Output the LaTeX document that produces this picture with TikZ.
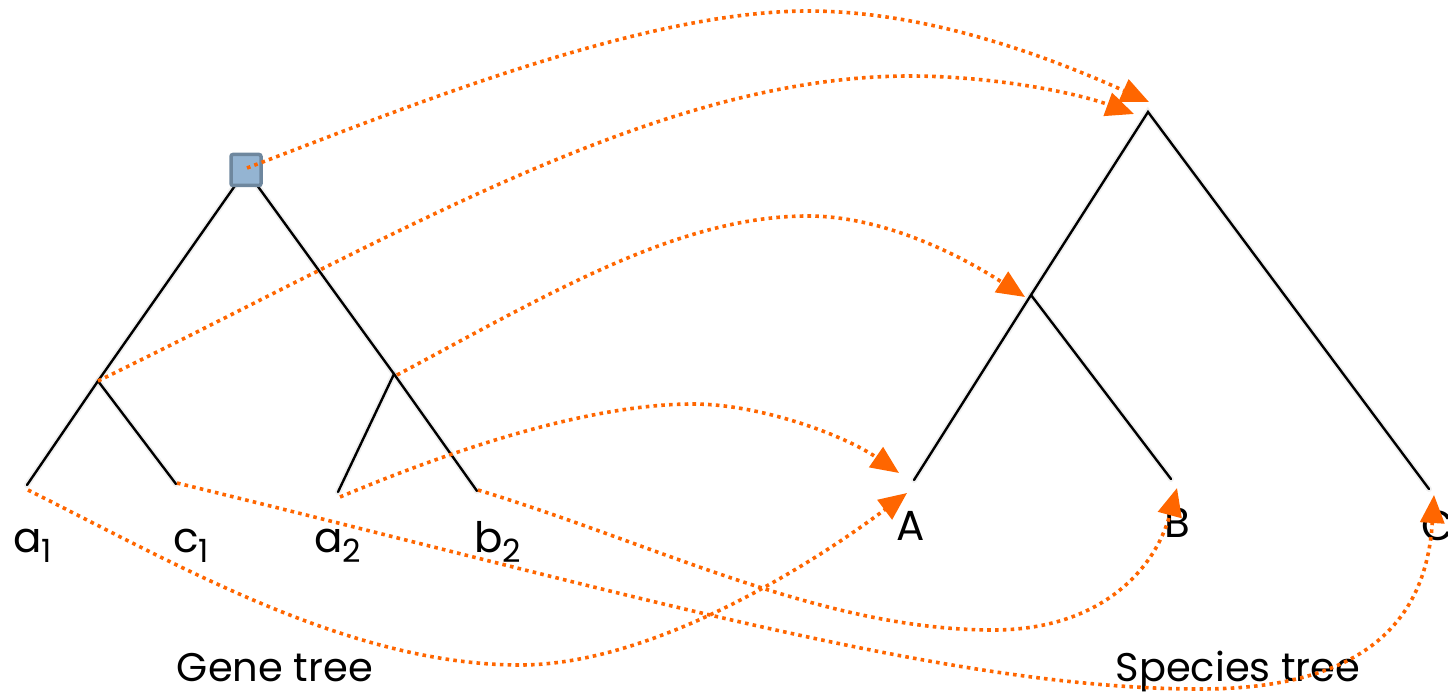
\documentclass[tikz,border=0pt]{standalone}
\usepackage{fontspec}
\setmainfont{Poppins}
\usetikzlibrary{arrows.meta}
\definecolor{maporange}{HTML}{FF6600}
\definecolor{dupfill}{HTML}{94B4D2}
\definecolor{dupdraw}{HTML}{6E879E}
\begin{document}
\begin{tikzpicture}[x=1pt,y=-1pt,
  branch/.style={line width=2.4pt, line cap=round, draw=black},
  branchshadow/.style={line width=6pt, line cap=round, draw=black, opacity=0.06},
  mapping/.style={draw=maporange, line width=3.6pt, dash pattern=on 3.6pt off 4.2pt,
    -{Triangle[length=28pt,width=24pt]}},
  lbl/.style={inner sep=0pt, anchor=base west, font=\fontsize{42}{48}\selectfont},
  clbl/.style={inner sep=0pt, anchor=base, font=\fontsize{42}{48}\selectfont},
  tlbl/.style={inner sep=0pt, anchor=base, font=\fontsize{40}{46}\selectfont},
  dupbox/.style={draw=dupdraw, fill=dupfill, line width=3.5pt, rounded corners=2pt,
    minimum width=30pt, minimum height=31pt, inner sep=0pt}
]
\newcommand{\subsc}[1]{\raisebox{-10pt}{\fontsize{32}{32}\selectfont #1}}
\useasboundingbox (0,0) rectangle (1448,695);

% gene tree points
\coordinate (g0) at (246,170);
\coordinate (gL) at (98,381);
\coordinate (gR) at (394,374);
\coordinate (a1e) at (27,485);
\coordinate (c1e) at (176,484);
\coordinate (a2e) at (338,492);
\coordinate (b2e) at (477,491);
% species tree points
\coordinate (s0) at (1148,112);
\coordinate (sAB) at (1031,295);
\coordinate (Ae) at (914,480);
\coordinate (Be) at (1171,479);
\coordinate (Ce) at (1429,489);

% shadows
\begin{scope}[shift={(4,3)}]
\draw[branchshadow] (a1e) -- (gL) -- (g0) -- (gR) -- (b2e);
\draw[branchshadow] (gL) -- (c1e);
\draw[branchshadow] (gR) -- (a2e);
\draw[branchshadow] (Ae) -- (sAB) -- (s0) -- (Ce);
\draw[branchshadow] (sAB) -- (Be);
\end{scope}

% branches
\draw[branch] (a1e) -- (gL) -- (g0) -- (gR) -- (b2e);
\draw[branch] (gL) -- (c1e);
\draw[branch] (gR) -- (a2e);
\draw[branch] (Ae) -- (sAB) -- (s0) -- (Ce);
\draw[branch] (sAB) -- (Be);

\node[dupbox] (dup) at (g0) {};

% labels
\node[lbl] (la1) at (13,552) {a\subsc{1}};
\node[lbl] (lc1) at (173,552) {c\subsc{1}};
\node[lbl] (la2) at (314,552) {a\subsc{2}};
\node[lbl] (lb2) at (474,552) {b\subsc{2}};
\node[clbl] (lA) at (911,540) {A};
\node[clbl] (lB) at (1177,537) {B};
\node[lbl] (lC) at (1421,540) {C};
\node[tlbl] (lgene) at (275,681) {Gene tree};
\node[tlbl] (lspecies) at (1238,681) {Species tree};

% mapping arrow end points
\coordinate (m1s) at (247,168);
\coordinate (m1p) at (808,11);
\coordinate (tR1) at (1149,102);
\coordinate (m2p) at (910,76);
\coordinate (tR2) at (1134,114);
\coordinate (m3s) at (397,375);
\coordinate (m3p) at (808,216);
\coordinate (tAB) at (1025,297);
\coordinate (m4s) at (340,497);
\coordinate (m4p) at (693,404);
\coordinate (tA1) at (899,473);
\coordinate (m5s) at (28,490);
\coordinate (m5p) at (520,665);
\coordinate (tA2) at (907,493);
\coordinate (m6s) at (177,483);
\coordinate (m6p) at (1200,689);
\coordinate (tC) at (1434,495);
\coordinate (m7s) at (478,490);
\coordinate (m7p) at (993,630);
\coordinate (tB) at (1177,488);

% mapping arrows
\draw[mapping] (m1s) .. controls (400,110) and (640,11) .. (m1p)
  .. controls (928,11) and (1049,57) .. (tR1);
\draw[mapping] (gL) .. controls (398,235) and (660,76) .. (m2p)
  .. controls (990,76) and (1074,92) .. (tR2);
\draw[mapping] (m3s) .. controls (547,295) and (678,216) .. (m3p)
  .. controls (880,216) and (955,252) .. (tAB);
\draw[mapping] (m4s) .. controls (440,455) and (583,404) .. (m4p)
  .. controls (760,404) and (844,435) .. (tA1);
\draw[mapping] (m5s) .. controls (178,565) and (350,665) .. (m5p)
  .. controls (650,665) and (807,568) .. (tA2);
\draw[mapping] (m6s) .. controls (627,593) and (950,689) .. (m6p)
  .. controls (1340,689) and (1425,640) .. (tC);
\draw[mapping] (m7s) .. controls (658,545) and (823,630) .. (m7p)
  .. controls (1100,630) and (1155,570) .. (tB);
\end{tikzpicture}
\end{document}
